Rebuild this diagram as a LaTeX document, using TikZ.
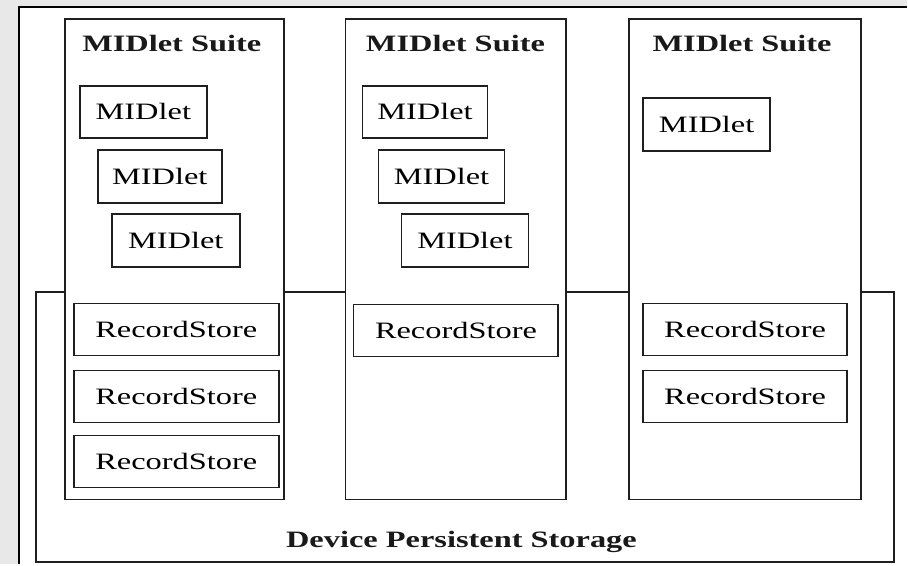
\documentclass[tikz,border=0pt]{standalone}
\usepackage{fontspec}
\setmainfont{Liberation Serif}[FakeStretch=1.38]
\begin{document}
\begin{tikzpicture}[x=1pt,y=-1pt,
  frame/.style={draw=black!88,line width=1.7pt,fill=white,inner sep=0pt,outer sep=0pt},
  item/.style={frame,font=\fontsize{23.5}{28}\selectfont},
  heading/.style={font=\bfseries\fontsize{23.5}{28}\selectfont,anchor=base,inner sep=0pt,text=black!90}
]
% page background and white panel
\fill[black!9] (0,0) rectangle (908,565);
\fill[white] (19,7) rectangle (908,565);
\draw[line width=2.2pt] (908,7) -- (19,7) -- (19,565);
\useasboundingbox (0,0) rectangle (908,565);

% device persistent storage
\node[frame,minimum width=859pt,minimum height=271pt] (store) at (465.5,427.5) {};
\node[heading] (storelbl) at (462,548) {Device Persistent Storage};

% suite 1
\node[frame,minimum width=219pt,minimum height=481pt] (s1) at (174.5,259.5) {};
\node[heading] (s1t) at (172,52) {MIDlet Suite};
\node[item,minimum width=127pt,minimum height=52pt] (s1m1) at (143.5,112) {MIDlet};
\node[item,minimum width=124pt,minimum height=53pt] (s1m2) at (160,176.5) {MIDlet};
\node[item,minimum width=128pt,minimum height=53pt] (s1m3) at (176,240.5) {MIDlet};
\node[item,minimum width=205pt,minimum height=52pt] (s1r1) at (176.5,330) {RecordStore};
\node[item,minimum width=205pt,minimum height=52pt] (s1r2) at (176.5,397) {RecordStore};
\node[item,minimum width=205pt,minimum height=52pt] (s1r3) at (176.5,462) {RecordStore};

% suite 2
\node[frame,minimum width=221pt,minimum height=481pt] (s2) at (456.5,259.5) {};
\node[heading] (s2t) at (456,52) {MIDlet Suite};
\node[item,minimum width=125pt,minimum height=52pt] (s2m1) at (425.5,112) {MIDlet};
\node[item,minimum width=126pt,minimum height=53pt] (s2m2) at (442,176.5) {MIDlet};
\node[item,minimum width=127pt,minimum height=53pt] (s2m3) at (465.5,240.5) {MIDlet};
\node[item,minimum width=205pt,minimum height=52pt] (s2r1) at (456.5,331) {RecordStore};

% suite 3
\node[frame,minimum width=232pt,minimum height=481pt] (s3) at (746,259.5) {};
\node[heading] (s3t) at (743,52) {MIDlet Suite};
\node[item,minimum width=127pt,minimum height=53pt] (s3m1) at (707.5,124.5) {MIDlet};
\node[item,minimum width=204pt,minimum height=52pt] (s3r1) at (746,330) {RecordStore};
\node[item,minimum width=204pt,minimum height=52pt] (s3r2) at (746,397) {RecordStore};
\end{tikzpicture}
\end{document}
